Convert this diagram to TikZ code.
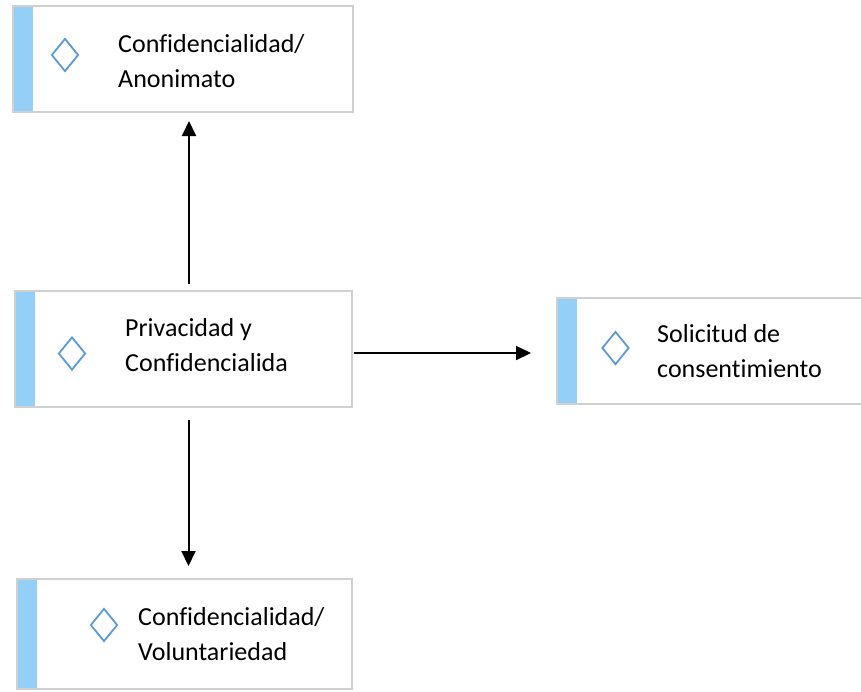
\documentclass[tikz,border=0pt]{standalone}
\usepackage{fontspec}
\setmainfont{Carlito}[Ligatures=NoCommon]
\usetikzlibrary{positioning}
\usetikzlibrary{shapes.geometric}
\usetikzlibrary{arrows.meta}

\definecolor{framegray}{RGB}{208,208,208}
\definecolor{barblue}{RGB}{148,207,247}
\definecolor{markblue}{RGB}{91,155,213}

\begin{document}
\begin{tikzpicture}[x=1pt, y=-1pt,
    card/.style={rectangle, draw=framegray, line width=2pt, fill=white,
      path picture={\fill[barblue] (path picture bounding box.north west)
        rectangle ([xshift=20pt]path picture bounding box.south west);}},
    bullet/.style={diamond, draw=markblue, line width=1.8pt, inner sep=0pt,
      minimum width=27pt, minimum height=33pt},
    cardtext/.style={anchor=west, align=left, inner sep=0pt,
      font=\fontsize{26}{35}\selectfont},
    flow/.style={-{Triangle[length=15pt,width=14pt]}, line width=2pt}]
  \useasboundingbox (0,0) rectangle (861,691);
  \clip (0,0) rectangle (861,691);
  % cards
  \node[card, minimum width=340pt, minimum height=106pt] (anon)  at (183,59)    {};
  \node[card, minimum width=337pt, minimum height=116pt] (priv)  at (183.5,349) {};
  \node[card, minimum width=313pt, minimum height=106pt] (cons)  at (713.5,351) {};
  \node[card, minimum width=335pt, minimum height=110pt] (volun) at (184.5,634) {};
  % bullets
  \node[bullet] (anonmark)  at (65,55)     {};
  \node[bullet] (privmark)  at (72,353.5)  {};
  \node[bullet] (consmark)  at (615.5,348) {};
  \node[bullet] (volunmark) at (104,625)   {};
  % texts
  \node[cardtext] (anontxt)  at (118,61)    {Confidencialidad/\\Anonimato};
  \node[cardtext] (privtxt)  at (125,345.5) {Privacidad y\\Confidencialida};
  \node[cardtext] (constxt)  at (657,351.5) {Solicitud de\\consentimiento};
  \node[cardtext] (voluntxt) at (138,634.5) {Confidencialidad/\\Voluntariedad};
  % links
  \draw[flow, shorten <=6pt, shorten >=8pt]
    ([xshift=5.5pt]priv.north) -- ([xshift=6pt]anon.south);
  \draw[flow, shorten <=1pt, shorten >=25pt]
    ([yshift=-4pt]priv.east) -- ([yshift=-2pt]cons.west);
  \draw[flow, shorten <=12pt, shorten >=12pt]
    ([xshift=5pt]priv.south) -- ([xshift=4pt]volun.north);
\end{tikzpicture}
\end{document}
